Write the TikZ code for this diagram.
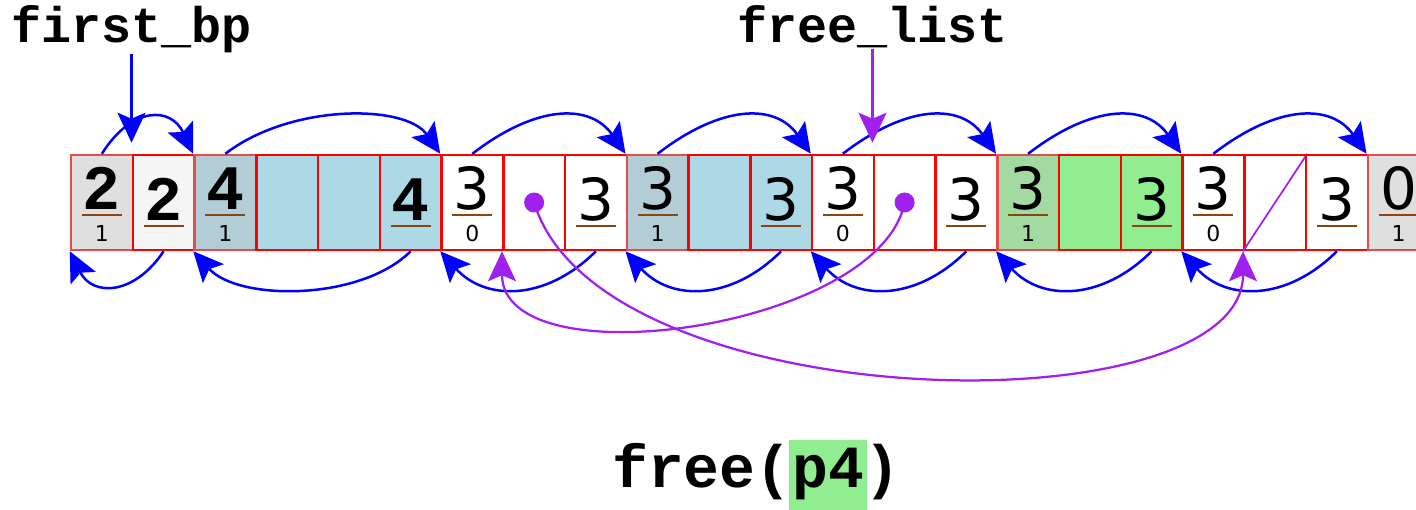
\documentclass[tikz,border=0pt]{standalone}
\usepackage{fontspec}
\newfontfamily\codefont{Liberation Mono}
\newfontfamily\numfont{DejaVu Sans}
\definecolor{hpurple}{HTML}{A020F0}
\definecolor{hbrown}{HTML}{8B4513}
\definecolor{lblue}{HTML}{ADD8E6}
\definecolor{lgreen}{HTML}{90EE90}
\definecolor{wsmoke}{HTML}{F5F5F5}
\definecolor{hshade}{HTML}{BEBEBE}
\usetikzlibrary{arrows.meta,positioning}

\begin{document}
\begin{tikzpicture}[
  cell/.style={draw=red,line width=0.05cm,minimum width=1.235cm,minimum height=1.9cm,inner sep=0pt},
  bigbd/.style={font=\codefont\bfseries\fontsize{36}{36}\selectfont,anchor=base,inner sep=0pt},
  bigrg/.style={font=\numfont\fontsize{33}{33}\selectfont,anchor=base,inner sep=0pt},
  bitlbl/.style={font=\numfont\fontsize{12.5}{12.5}\selectfont,anchor=base,inner sep=0pt},
  bar/.style={hbrown,line width=0.045cm},
  arr/.style={-{Stealth[length=0.6cm,width=0.56cm,inset=0.12cm]},line width=0.05cm},
  flink/.style={arr,hpurple,line width=0.045cm},
  ptr/.style={font=\codefont\bfseries\fontsize{28.5}{28.5}\selectfont,inner sep=0pt},
  title/.style={font=\codefont\bfseries\fontsize{34}{34}\selectfont,inner sep=0pt}]
  \useasboundingbox (0,0) rectangle (28.32,10.2);
  % heap cells: index/kind/fill/size/alloc/font
  \foreach \i/\kd/\fc/\nm/\al/\fn in {0/h/wsmoke/2/1/bd, 1/f/wsmoke/2/-/bd, 2/h/lblue/4/1/bd,
      3/e/lblue/-/-/bd, 4/e/lblue/-/-/bd, 5/f/lblue/4/-/bd,
      6/h/white/3/0/rg, 7/d/white/-/-/rg, 8/f/white/3/-/rg,
      9/h/lblue/3/1/rg, 10/e/lblue/-/-/rg, 11/f/lblue/3/-/rg,
      12/h/white/3/0/rg, 13/d/white/-/-/rg, 14/f/white/3/-/rg,
      15/h/lgreen/3/1/rg, 16/e/lgreen/-/-/rg, 17/f/lgreen/3/-/rg,
      18/h/white/3/0/rg, 19/n/white/-/-/rg, 20/f/white/3/-/rg,
      21/h/wsmoke/0/1/rg} {
    \node[cell,fill=\fc] (c\i) at ({1.42+1.235*(\i+0.5)},6.15) {};
    \if 1\al
      \fill[hshade,opacity=0.4] (c\i.south west) rectangle (c\i.north east);
    \fi
    \if h\kd
      \node[big\fn] (n\i) at ([yshift=-0.15cm]c\i.center) {\nm};
      \draw[bar] ([xshift=-0.4cm,yshift=-0.25cm]c\i.center) -- ([xshift=0.4cm,yshift=-0.25cm]c\i.center);
      \node[bitlbl] (a\i) at ([yshift=-0.78cm]c\i.center) {\al};
    \fi
    \if f\kd
      \node[big\fn] (n\i) at ([yshift=-0.36cm]c\i.center) {\nm};
      \draw[bar] ([xshift=-0.4cm,yshift=-0.47cm]c\i.center) -- ([xshift=0.4cm,yshift=-0.47cm]c\i.center);
    \fi
    \if d\kd
      \fill[hpurple] (c\i.center) circle (0.2cm);
    \fi
    \if n\kd
      \draw[hpurple,line width=0.035cm] (c\i.south west) -- (c\i.north east);
    \fi
  }
  % next / previous block links
  \draw[arr,blue] (c0.north) .. controls +(0.6,0.95) and +(-0.45,0.95) .. (c2.north west);
  \foreach \p/\q in {2/6,6/9,9/12,12/15,15/18,18/21}
    \draw[arr,blue] (c\p.north) .. controls +(1.3,1) and +(-0.7,1) .. (c\q.north west);
  \draw[arr,blue] (c1.south) .. controls +(-0.6,-0.9) and +(0.45,-0.9) .. (c0.south west);
  \foreach \p/\q in {5/2,8/6,11/9,14/12,17/15,20/18}
    \draw[arr,blue] (c\p.south) .. controls +(-1,-1) and +(0.9,-1) .. (c\q.south west);
  % explicit free list
  \draw[flink] (c13.center) .. controls +(-0.5,-2.54) and +(0,-2.6) .. (c7.south west);
  \draw[flink] (c7.center) .. controls +(1.3,-4.34) and +(0,-3.6) .. (c19.south west);
  % pointers
  \coordinate (fbptip) at ([yshift=0.22cm]c1.north west);
  \coordinate (fltip) at ([yshift=0.22cm]c13.north west);
  \node[ptr,anchor=base] (firstbp) at (fbptip |- 0,9.34) {first\_bp};
  \node[ptr,anchor=base] (freelist) at (fltip |- 0,9.34) {free\_list};
  \draw[arr,blue] (firstbp.south) -- (fbptip);
  \draw[flink] (freelist.south) -- (fltip);
  % caption
  \node[title,fill=lgreen,inner xsep=0.06cm,text height=0.96cm,text depth=0.5cm,anchor=base] (p4) at (16.56,0.44) {p4};
  \node[title,base left=-0.06cm of p4] (fr) {free(};
  \node[title,base right=-0.06cm of p4] (cl) {)};
\end{tikzpicture}
\end{document}
